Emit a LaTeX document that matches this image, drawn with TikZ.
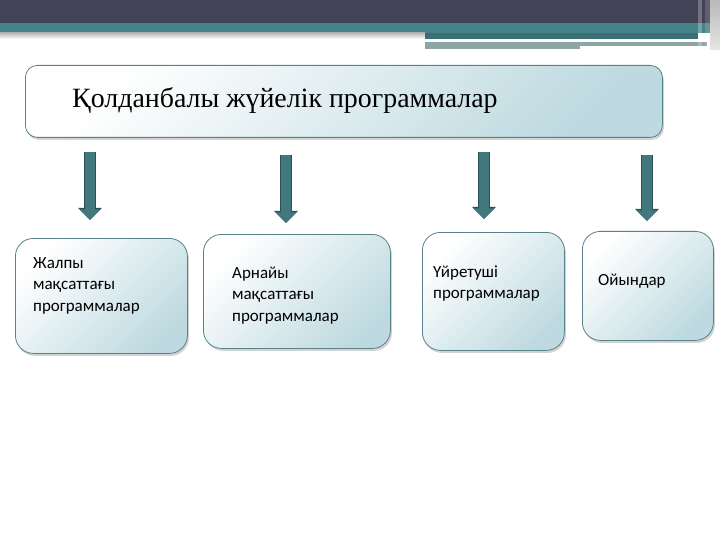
\documentclass[tikz,border=0pt]{standalone}
\usepackage{fontspec}
\setmainfont{Liberation Serif}
\newfontfamily\cardfont{Carlito}
\usetikzlibrary{shadows,arrows.meta}
\definecolor{Slate}{RGB}{67,67,88}
\definecolor{Teal}{RGB}{69,131,138}
\definecolor{GreyTeal}{RGB}{140,165,165}
\definecolor{BoxEdge}{RGB}{88,130,138}
\definecolor{BoxBlue}{RGB}{190,218,224}
\definecolor{ArrowTeal}{RGB}{64,120,126}
\definecolor{ArrowDark}{RGB}{42,82,86}

\tikzset{
  card/.style={draw=BoxEdge, line width=0.8pt, rounded corners=18pt,
    top color=white, bottom color=BoxBlue, shading angle=45,
    drop shadow={shadow xshift=1.5pt, shadow yshift=-2.5pt, opacity=0.35},
    inner sep=0pt, anchor=north west},
  cardtext/.style={anchor=base west, align=left, inner sep=0pt,
    font=\cardfont\fontsize{17}{21.7}\selectfont},
  bigarrow/.style={line width=9.5pt, draw=ArrowTeal,
    -{Triangle[width=20pt,length=10.5pt]},
    preaction={draw=ArrowDark, line width=11.5pt, -{Triangle[width=23pt,length=12pt]}}}
}

\begin{document}
\begin{tikzpicture}[x=1pt, y=-1pt]
        \useasboundingbox (0,0) rectangle (720,540);

        % header bands
        \fill[Slate] (0,0) rectangle (720,23);
        \fill[Teal] (0,23) rectangle (720,33);
        \shade[top color=gray!55, bottom color=white] (0,33) rectangle (425,39);
        \fill[Teal!85!black] (425,33) rectangle (698,39);
        \fill[white] (425,39) rectangle (667,42);
        \fill[GreyTeal] (425,42) rectangle (707,49);
        \fill[white] (580,46) rectangle (707,50);
        \fill[white, opacity=0.25] (698,0) rectangle (702,50);
        \fill[white, opacity=0.15] (705,0) rectangle (710,50);
        \shade[top color=gray!55, bottom color=gray!20] (710,0) rectangle (720,50);

        % main box
        \node[card, rounded corners=12pt, minimum width=637pt, minimum height=72pt] (top) at (25,65) {};
        \node[anchor=base west, inner sep=0pt, font=\fontsize{27.9}{33}\selectfont] (title) at (72,108) {Қолданбалы жүйелік программалар};

        % lower boxes
        \node[card, minimum width=172pt, minimum height=115pt] (gen) at (15,238) {};
        \node[card, minimum width=187pt, minimum height=114pt] (spec) at (203,234) {};
        \node[card, minimum width=142pt, minimum height=118pt] (edu) at (422,232) {};
        \node[card, minimum width=131pt, minimum height=109pt] (game) at (582,231) {};

        % base anchor sits on the last line
        \node[cardtext] (gentxt) at (33,311.4) {Жалпы\\мақсаттағы\\программалар};
        \node[cardtext] (spectxt) at (232,321.4) {Арнайы\\мақсаттағы\\программалар};
        \node[cardtext] (edutxt) at (433,298.7) {Үйретуші\\программалар};
        \node[cardtext] (gametxt) at (598,285) {Ойындар};

        % arrows
        \coordinate (a1) at (90,152);  \coordinate (e1) at (90,220);
        \coordinate (a2) at (286,155); \coordinate (e2) at (286,223);
        \coordinate (a3) at (484,152); \coordinate (e3) at (484,219);
        \coordinate (a4) at (647,155); \coordinate (e4) at (647,221);
        \draw[bigarrow] (a1) -- (e1);
        \draw[bigarrow] (a2) -- (e2);
        \draw[bigarrow] (a3) -- (e3);
        \draw[bigarrow] (a4) -- (e4);
    \end{tikzpicture}
\end{document}
